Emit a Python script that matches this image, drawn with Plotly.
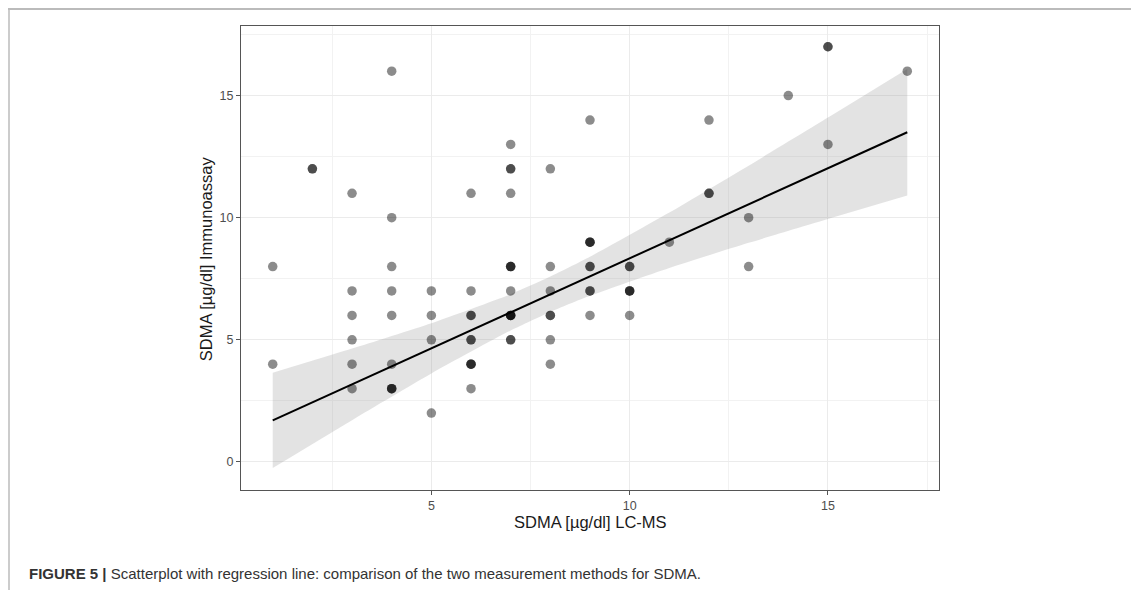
import plotly.graph_objects as go

# SDMA values (µg/dl); repeated pairs are overlapping observations
sdma_lcms = [1, 1,
             2, 2,
             3, 3, 3, 3, 3, 3,
             4, 4, 4, 4, 4, 4, 4, 4, 4,
             5, 5, 5, 5,
             6, 6, 6, 6, 6, 6, 6, 6, 6, 6,
             7, 7, 7, 7, 7, 7, 7, 7, 7, 7, 7, 7, 7, 7,
             8, 8, 8, 8, 8, 8, 8,
             9, 9, 9, 9, 9, 9, 9, 9, 9,
             10, 10, 10, 10, 10, 10,
             11,
             12, 12, 12,
             13, 13,
             14,
             15, 15, 15,
             17]
sdma_ia = [8, 4,
           12, 12,
           11, 7, 6, 5, 4, 3,
           16, 10, 8, 7, 6, 4, 3, 3, 3,
           7, 6, 5, 2,
           11, 7, 6, 6, 5, 5, 4, 4, 4, 3,
           13, 12, 12, 11, 8, 8, 8, 7, 6, 6, 6, 6, 5, 5,
           12, 8, 7, 6, 6, 5, 4,
           14, 9, 9, 9, 8, 8, 7, 7, 6,
           8, 8, 7, 7, 7, 6,
           9,
           14, 11, 11,
           10, 8,
           15,
           17, 17, 13,
           16]

# regression line and 95% confidence band
fit_x = [1, 17]
fit_y = [1.70, 13.50]
band_x = [1, 3, 5, 7, 8, 9, 11, 13, 15, 17]
band_lo = [-0.25, 1.71, 3.62, 5.38, 6.14, 6.80, 7.94, 8.97, 9.95, 10.91]
band_hi = [3.65, 4.64, 5.68, 6.87, 7.59, 8.40, 10.21, 12.13, 14.10, 16.09]

x_ticks = [5, 10, 15]
y_ticks = [0, 5, 10, 15]
x_title = "SDMA [µg/dl] LC-MS"
y_title = "SDMA [µg/dl] Immunoassay"
caption = "<b>FIGURE 5 |</b> Scatterplot with regression line: comparison of the two measurement methods for SDMA."

FONT = "Liberation Sans, Arial, Helvetica, sans-serif"

# figure geometry (figure is offset by the 8px page margin)
W, H = 1131, 582
L, T, PW, PH = 233, 18, 698, 464
B = T + PH


def px(fx):
    return (fx - L) / PW


def py(fy):
    return (B - fy) / PH


fig = go.Figure()
fig.add_trace(go.Scatter(
    x=band_x, y=band_lo, mode="lines",
    line=dict(width=0, shape="spline", smoothing=0.6),
    hoverinfo="skip", showlegend=False))
fig.add_trace(go.Scatter(
    x=band_x, y=band_hi, mode="lines", fill="tonexty",
    fillcolor="rgba(153,153,153,0.28)",
    line=dict(width=0, shape="spline", smoothing=0.6),
    hoverinfo="skip", showlegend=False))
fig.add_trace(go.Scatter(
    x=sdma_lcms, y=sdma_ia, mode="markers",
    marker=dict(color="black", opacity=0.45, size=9.5, line=dict(width=0)),
    showlegend=False))
fig.add_trace(go.Scatter(
    x=fit_x, y=fit_y, mode="lines", line=dict(color="black", width=2),
    showlegend=False))

axis_common = dict(
    showgrid=True, gridcolor="#ebebeb", gridwidth=1.2,
    minor=dict(showgrid=True, gridcolor="#f2f2f2", gridwidth=0.8),
    zeroline=False, showline=True, linecolor="#555555", linewidth=1.2, mirror=True,
    ticks="outside", ticklen=4, tickcolor="#555555",
    tickfont=dict(family=FONT, size=12.5, color="#4d4d4d"),
)
fig.update_xaxes(range=[0.2, 17.8], tickvals=x_ticks, minor_dtick=2.5, minor_tick0=0,
                 **axis_common)
fig.update_yaxes(range=[-1.15, 17.85], tickvals=y_ticks, minor_dtick=2.5, minor_tick0=0,
                 **axis_common)

# axis titles
fig.add_annotation(text=x_title, xref="paper", yref="paper", x=0.5, y=py(513.7),
                   xanchor="center", yanchor="middle", showarrow=False,
                   font=dict(family=FONT, size=16.5, color="#1a1a1a"))
fig.add_annotation(text=y_title, xref="paper", yref="paper", x=px(197.7), y=py(250.5),
                   xanchor="center", yanchor="middle", showarrow=False, textangle=-90,
                   font=dict(family=FONT, size=16.5, color="#1a1a1a"))

# page frame lines (top and left)
fig.add_shape(type="line", xref="paper", yref="paper",
              x0=px(0), x1=px(W), y0=py(1), y1=py(1),
              line=dict(color="#bbbbbb", width=2))
fig.add_shape(type="line", xref="paper", yref="paper",
              x0=px(1), x1=px(1), y0=py(1), y1=py(H),
              line=dict(color="#bbbbbb", width=1.5))

fig.add_annotation(text=caption, xref="paper", yref="paper",
                   x=px(19), y=py(565), xanchor="left", yanchor="middle",
                   showarrow=False,
                   font=dict(family=FONT, size=15, color="#333333"))

fig.update_layout(
    width=W, height=H,
    margin=dict(l=L, r=W - L - PW, t=T, b=H - B),
    plot_bgcolor="white", paper_bgcolor="white",
)
fig.write_html("out.html")
